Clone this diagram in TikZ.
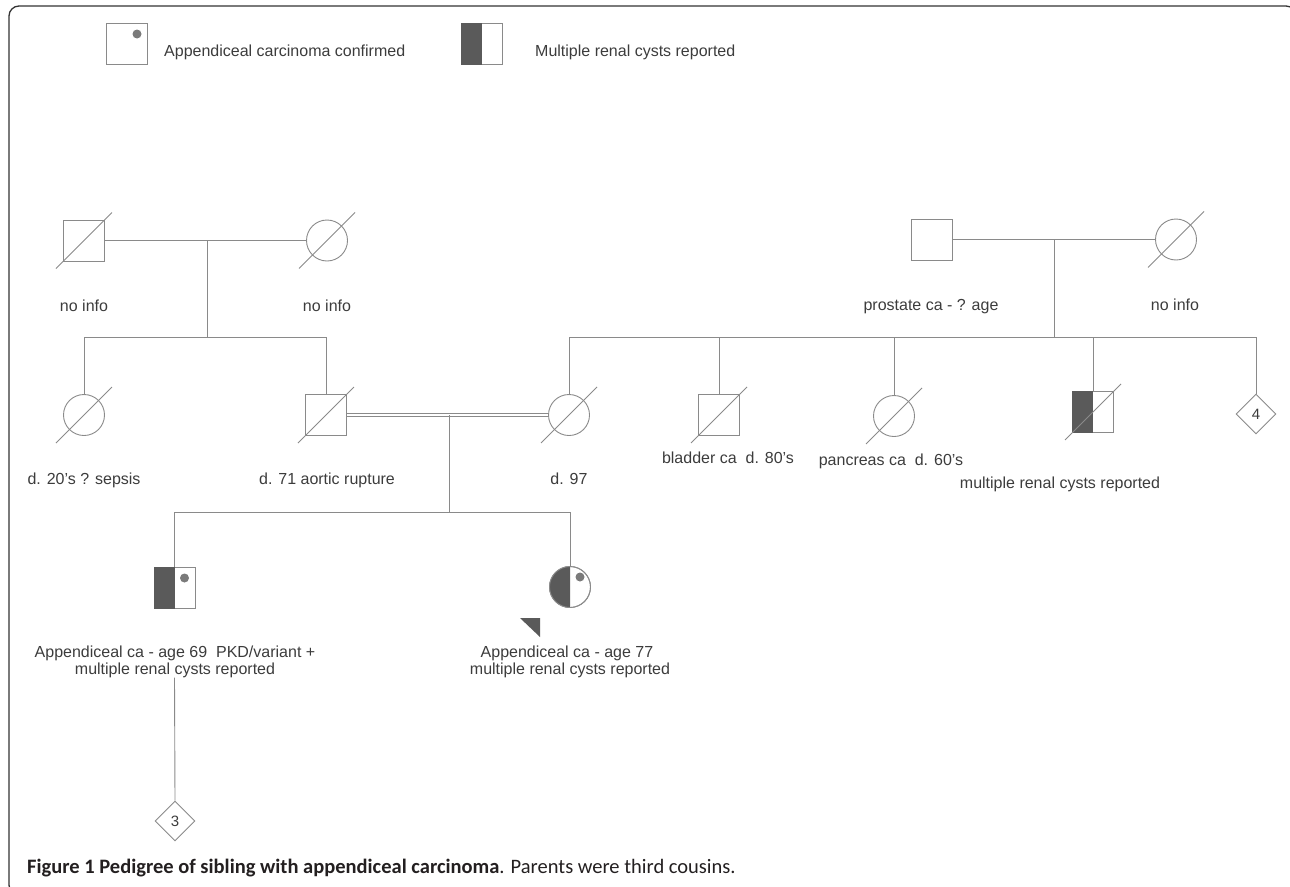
\documentclass[tikz,border=0pt]{standalone}
\usepackage{fontspec}
\setmainfont{Liberation Sans}
\newfontfamily\capfont{Carlito}
\usetikzlibrary{shapes.geometric}
\definecolor{ln}{HTML}{8A8A8A}
\definecolor{tx}{HTML}{3C3C3C}
\definecolor{dk}{HTML}{5A5A5A}
\definecolor{dotc}{HTML}{7A7A7A}
\definecolor{fr}{HTML}{333333}
\definecolor{capc}{HTML}{231F20}
\newcommand{\deadslash}[1]{\draw[ln,line width=0.9pt] ([shift={(-28pt,-28pt)}]#1.center) -- ([shift={(28pt,28pt)}]#1.center);}
\newcommand{\lefthalfsq}[1]{\fill[dk] (#1.north west) rectangle (#1.south);}
\newcommand{\lefthalfci}[1]{\begin{scope}\clip ([shift={(-30pt,-30pt)}]#1.center) rectangle ([yshift=30pt]#1.center);\fill[dk] (#1.center) circle[radius=20.5pt];\end{scope}}
\newcommand{\apdot}[1]{\fill[dotc] ([shift={(10pt,10pt)}]#1.center) circle[radius=4.5pt];}
\begin{document}
\begin{tikzpicture}[x=1pt,y=-1pt,
  sq/.style={draw=ln, line width=0.9pt, rectangle, minimum size=41pt, inner sep=0pt},
  fem/.style={draw=ln, line width=0.9pt, circle, minimum size=41pt, inner sep=0pt},
  dia/.style={draw=ln, line width=0.9pt, diamond, minimum width=40pt, minimum height=40pt, inner sep=0pt, text=tx, font=\fontsize{15}{17}\selectfont},
  lbl/.style={text=tx, font=\fontsize{16}{17}\selectfont, inner sep=0pt},
  conn/.style={draw=ln, line width=0.9pt}]
\useasboundingbox (0,0) rectangle (1290,886);
% frame
\begin{scope}
\clip (0,0) rectangle (1290,886);
\draw[fr, line width=1.3pt, rounded corners=10pt] (9,6) rectangle (1296,895);
\end{scope}
% legend
\node[sq] (lg1) at (127,44) {};
\apdot{lg1}
\node[lbl, anchor=base west] (lt1) at (164,56.5) {Appendiceal carcinoma confirmed};
\node[sq] (lg2) at (481.5,44) {};
\lefthalfsq{lg2}
\node[lbl, anchor=base west] (lt2) at (535,56.5) {Multiple renal cysts reported};
% grandparents left
\node[sq] (gf1) at (84,240.5) {};
\node[fem] (gm1) at (327,240.5) {};
\deadslash{gf1}\deadslash{gm1}
\draw[conn] (gf1.east) -- (gm1.west);
\coordinate (m1) at (207,240.5);
\coordinate (s1) at (207,337);
\draw[conn] (m1) -- (s1);
\node[lbl, anchor=base] (gf1l) at (84,311) {no info};
\node[lbl, anchor=base] (gm1l) at (327,311) {no info};
% grandparents right
\node[sq] (gf2) at (932,239.5) {};
\node[fem] (gm2) at (1176,239.5) {};
\deadslash{gm2}
\draw[conn] (gf2.east) -- (gm2.west);
\coordinate (m2) at (1054,239.5);
\coordinate (s2) at (1054,337);
\draw[conn] (m2) -- (s2);
\node[lbl, anchor=base] (gf2l) at (931,310) {prostate ca - ? age};
\node[lbl, anchor=base] (gm2l) at (1175,310) {no info};
% generation II left
\node[fem] (c1) at (84,415) {};
\node[sq] (fa) at (326,415) {};
\deadslash{c1}\deadslash{fa}
\draw[conn] (c1.north) -- (c1.north |- s1) -- (fa.north |- s1) -- (fa.north);
\node[lbl, anchor=base] (c1l) at (84,484) {d. 20's ? sepsis};
\node[lbl, anchor=base] (fal) at (327,484) {d. 71 aortic rupture};
% generation II right
\node[fem] (mo) at (569,415) {};
\node[sq] (bl) at (719,415) {};
\node[fem] (pa) at (894,416) {};
\node[sq] (rc) at (1093,412) {};
\lefthalfsq{rc}
\node[dia] (d4) at (1256,414) {4};
\deadslash{mo}\deadslash{bl}\deadslash{pa}\deadslash{rc}
\draw[conn] (mo.north) -- (mo.north |- s2) -- (d4.north |- s2) -- (d4.north);
\draw[conn] (bl.north) -- (bl.north |- s2);
\draw[conn] (pa.north) -- (pa.north |- s2);
\draw[conn] (rc.north) -- (rc.north |- s2);
\node[lbl, anchor=base] (mol) at (569,484) {d. 97};
\node[lbl, anchor=base] (bll) at (728,463) {bladder ca\ \ d. 80's};
\node[lbl, anchor=base] (pal) at (891,465) {pancreas ca\ \ d. 60's};
\node[lbl, anchor=base] (rcl) at (1060,488) {multiple renal cysts reported};
% consanguineous couple
\draw[ln, line width=0.8pt, double=white, double distance=1.8pt] (fa.east) -- (mo.west);
\coordinate (m3) at (449,415);
\coordinate (s3) at (449,512);
\draw[conn] (m3) -- (s3);
% generation III
\node[sq] (br) at (174.5,588) {};
\lefthalfsq{br}
\apdot{br}
\node[fem] (si) at (570,587) {};
\lefthalfci{si}
\node[fem] at (570,587) {};
\apdot{si}
\draw[conn] (br.north) -- (br.north |- s3) -- (si.north |- s3) -- (si.north);
\fill[dk] (520,618) -- (540,618) -- (540,637) -- cycle;
\node[lbl, anchor=base] (brl1) at (175,657) {Appendiceal ca - age 69\ \ PKD/variant +};
\node[lbl, anchor=base] (brl2) at (175,674) {multiple renal cysts reported};
\node[lbl, anchor=base] (sil1) at (567,657) {Appendiceal ca - age 77};
\node[lbl, anchor=base] (sil2) at (570,674) {multiple renal cysts reported};
\node[dia] (d3) at (175,821) {3};
\draw[conn] (brl2.south -| br.center) -- (d3.north);
% caption
\node[anchor=base west, inner sep=0pt, text=capc, font=\capfont\fontsize{20.5}{22}\selectfont] (cap) at (27,873) {\textbf{Figure 1 Pedigree of sibling with appendiceal carcinoma}. Parents were third cousins.};
\end{tikzpicture}
\end{document}
